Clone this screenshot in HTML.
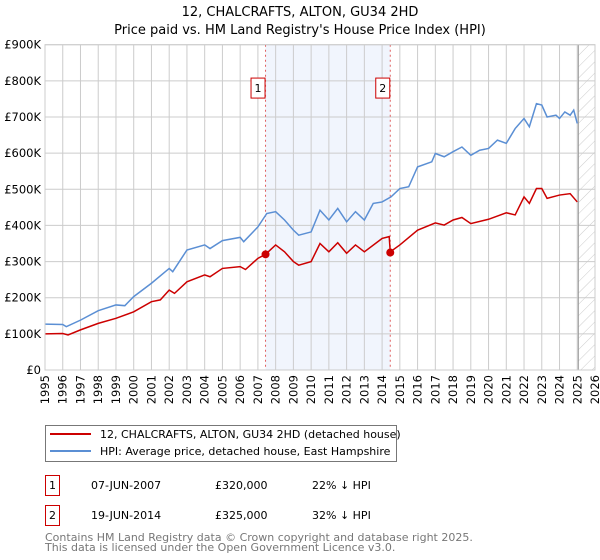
<!DOCTYPE html>
<html><head><meta charset="utf-8"><style>
body{margin:0;background:#fff;}
svg{display:block;font-family:"DejaVu Sans","Liberation Sans",sans-serif;}
</style></head><body>
<svg id="chart" width="600" height="560" xmlns="http://www.w3.org/2000/svg">
<defs><pattern id="hatch" width="8" height="8" patternUnits="userSpaceOnUse" patternTransform="rotate(45)"><line x1="0" y1="0" x2="0" y2="8" stroke="#ccc" stroke-width="1"/></pattern></defs>
<text x="300" y="16" text-anchor="middle" font-size="13" fill="#000">12, CHALCRAFTS, ALTON, GU34 2HD</text>
<text x="300" y="34" text-anchor="middle" font-size="13" fill="#000">Price paid vs. HM Land Registry's House Price Index (HPI)</text>
<g id="plot"></g>
<g>
<rect x="45.5" y="425.5" width="351" height="36" fill="#fff" stroke="#777"/>
<line x1="50" y1="434" x2="91" y2="434" stroke="#cc0000" stroke-width="2"/>
<text x="100" y="438" font-size="11">12, CHALCRAFTS, ALTON, GU34 2HD (detached house)</text>
<line x1="50" y1="451" x2="91" y2="451" stroke="#5b8fd4" stroke-width="2"/>
<text x="100" y="455" font-size="11">HPI: Average price, detached house, East Hampshire</text>
</g>
<g font-size="11">
<rect x="45.5" y="475.5" width="14" height="20" fill="#fff" stroke="#cc0000"/>
<text x="52.5" y="489" text-anchor="middle">1</text>
<text x="91" y="489">07-JUN-2007</text>
<text x="215" y="489">£320,000</text>
<text x="312" y="489">22% ↓ HPI</text>
<rect x="45.5" y="505.5" width="14" height="20" fill="#fff" stroke="#cc0000"/>
<text x="52.5" y="519" text-anchor="middle">2</text>
<text x="91" y="519">19-JUN-2014</text>
<text x="215" y="519">£325,000</text>
<text x="312" y="519">32% ↓ HPI</text>
</g>
<text x="45" y="541" font-size="11" fill="#777">Contains HM Land Registry data © Crown copyright and database right 2025.</text>
<text x="45" y="551" font-size="11" fill="#777">This data is licensed under the Open Government Licence v3.0.</text>
</svg>
<script>
const yTickValues=[0,100,200,300,400,500,600,700,800,900];
const yTickLabels=["£0","£100K","£200K","£300K","£400K","£500K","£600K","£700K","£800K","£900K"];
const xYears=[1995,1996,1997,1998,1999,2000,2001,2002,2003,2004,2005,2006,2007,2008,2009,2010,2011,2012,2013,2014,2015,2016,2017,2018,2019,2020,2021,2022,2023,2024,2025,2026];
const hpiDates=[1995,1996,1996.2,1997,1998,1999,1999.5,2000,2001,2002,2002.2,2003,2004,2004.3,2005,2006,2006.2,2007,2007.5,2008,2008.5,2009,2009.3,2010,2010.5,2011,2011.5,2012,2012.5,2013,2013.5,2014,2014.5,2015,2015.5,2016,2016.8,2017,2017.5,2018,2018.5,2019,2019.5,2020,2020.5,2021,2021.5,2022,2022.3,2022.7,2023,2023.3,2023.8,2024,2024.3,2024.6,2024.8,2025];
const hpiValues=[127,126,120,138,164,180,178,203,240,281,272,332,346,336,358,367,355,396,433,438,415,387,373,382,442,415,447,410,438,415,461,465,479,502,507,562,576,599,590,604,617,594,608,613,636,627,668,696,673,737,733,700,705,696,714,705,719,682];
const priceDates=[1995,1996,1996.3,1997,1998,1999,2000,2001,2001.5,2002,2002.3,2003,2004,2004.3,2005,2006,2006.3,2007,2007.43,2008,2008.5,2009,2009.3,2010,2010.5,2011,2011.5,2012,2012.5,2013,2014,2014.4,2014.46,2015,2016,2017,2017.5,2018,2018.5,2019,2020,2021,2021.5,2022,2022.3,2022.7,2023,2023.3,2024,2024.6,2025];
const priceValues=[100,101,97,111,129,143,161,189,194,221,212,244,263,258,281,286,278,309,320,346,327,300,290,300,350,327,352,323,346,327,364,369,327,346,387,407,401,415,422,405,417,435,429,479,461,502,502,475,484,488,465];
const saleDates=[2007.43,2014.46];
const saleValues=[320,325];
const saleLabels=["1","2"];

const L=45,R=595,T=44.7,B=370;
const x=v=>L+(v-1995)/31*(R-L);
const y=v=>B-v/900*(B-T);
const NS="http://www.w3.org/2000/svg";
const g=document.getElementById('plot');
function mk(tag,attrs,parent){const e=document.createElementNS(NS,tag);for(const k in attrs)e.setAttribute(k,attrs[k]);(parent||g).appendChild(e);return e;}

const shade=mk('rect',{x:x(saleDates[0]),y:T,width:x(saleDates[1])-x(saleDates[0]),height:B-T,fill:'#eef3fc',opacity:0.8});


const hatch=mk('rect',{x:x(2025.06),y:T,width:R-x(2025.06),height:B-T,fill:'url(#hatch)'});



yTickValues.forEach((v,i)=>{
  const ln=mk('line',{x1:L,x2:R,y1:y(v),y2:y(v),stroke:'#ccc','stroke-width':1});
  
  
  const t=mk('text',{x:L-4,y:y(v)+4,'text-anchor':'end','font-size':11.5});
  t.textContent=yTickLabels[i];
  
  
});
xYears.forEach(v=>{
  const ln=mk('line',{x1:x(v),x2:x(v),y1:T,y2:B,stroke:'#ccc','stroke-width':1});
  
  
  const t=mk('text',{transform:`translate(${x(v)+4},${B+5}) rotate(-90)`,'text-anchor':'end','font-size':11.5});
  t.textContent=v;
  
  
});
const vl=mk('line',{x1:x(2025.06),x2:x(2025.06),y1:T,y2:B,stroke:'#999','stroke-width':1});



saleDates.forEach((d,i)=>{
  const l=mk('line',{x1:x(d),x2:x(d),y1:T,y2:B,stroke:'#e06060','stroke-width':1,'stroke-dasharray':'2,3'});
  
  
});

const hp=mk('polyline',{points:hpiDates.map((d,i)=>x(d)+','+y(hpiValues[i])).join(' '),fill:'none',stroke:'#5b8fd4','stroke-width':1.5});


const pp=mk('polyline',{points:priceDates.map((d,i)=>x(d)+','+y(priceValues[i])).join(' '),fill:'none',stroke:'#cc0000','stroke-width':1.5});



saleDates.forEach((d,i)=>{
  const c=mk('circle',{cx:x(d),cy:y(saleValues[i]),r:4,fill:'#cc0000'});
  
  
  const bx=mk('rect',{x:x(d)-14.5,y:y(780)-10,width:14,height:20,fill:'#fff',stroke:'#cc0000'});
  
  
  const t=mk('text',{x:x(d)-7.5,y:y(780)+4,'text-anchor':'middle','font-size':11});
  t.textContent=saleLabels[i];
  
  
});
const fr=mk('rect',{x:L,y:T,width:R-L,height:B-T,fill:'none',stroke:'#ccc'});


</script>
</body></html>
